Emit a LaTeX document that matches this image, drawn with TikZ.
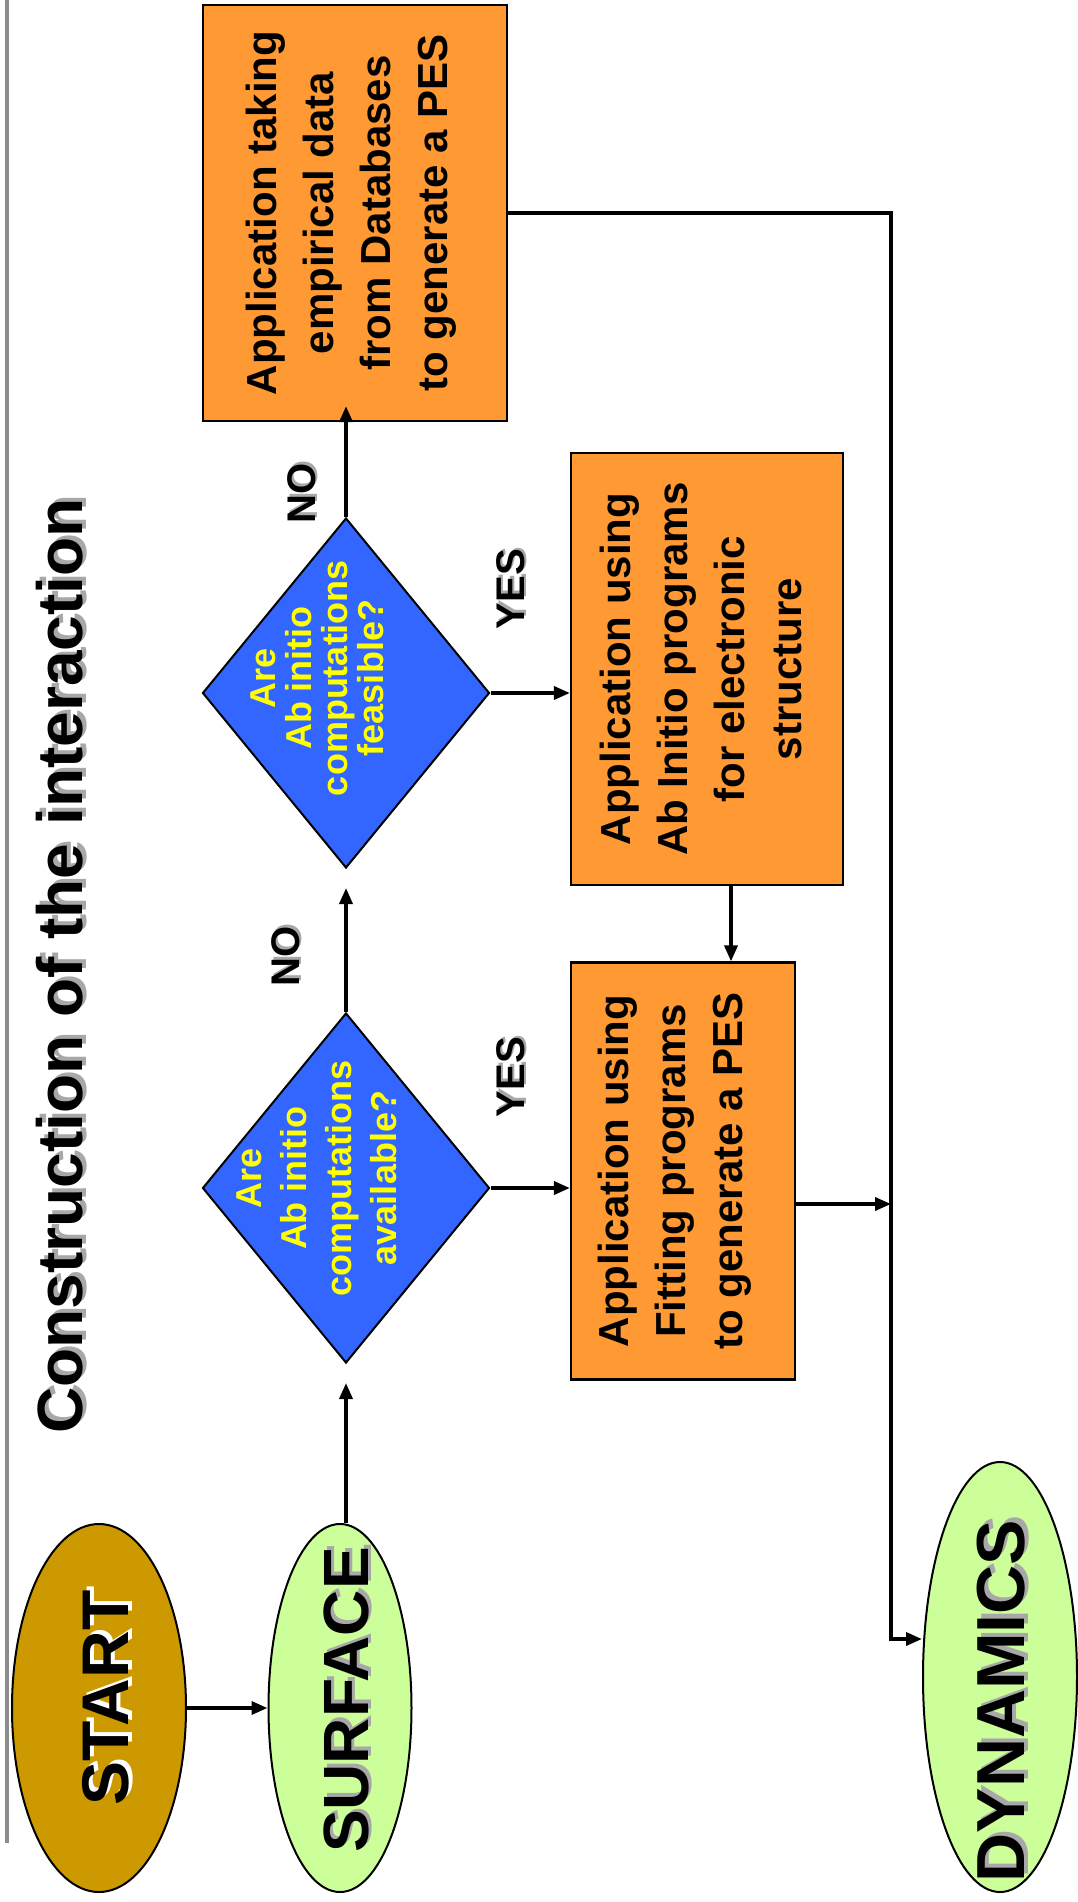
\documentclass[tikz,border=0pt]{standalone}
\usepackage{fontspec}
\setmainfont{Liberation Sans}
\usetikzlibrary{shapes.geometric,arrows.meta,calc}
\definecolor{startcol}{HTML}{CC9900}
\definecolor{greencol}{HTML}{CCFF99}
\definecolor{bluecol}{HTML}{3366FF}
\definecolor{orangecol}{HTML}{FF9933}
\definecolor{shadowgray}{HTML}{A8A8A8}
\definecolor{bargray}{HTML}{8C8C8C}
\definecolor{yel}{HTML}{FFFF00}
\newcommand\shadowed[2]{\leavevmode\rlap{\kern0.06em\raisebox{-0.06em}{\textcolor{#1}{#2}}}#2}
\begin{document}
\begin{tikzpicture}[x=1pt,y=-1pt,
  ell/.style={ellipse, draw=black, line width=2pt, inner sep=0},
  dia/.style={diamond, draw=black, fill=bluecol, line width=2pt, inner sep=0,
    minimum width=287pt, minimum height=350pt},
  boxshape/.style={rectangle, draw=black, fill=orangecol, line width=2.2pt, inner sep=0},
  boxtxt/.style={rotate=90, align=center, inner sep=0, font=\fontsize{42}{57}\selectfont\bfseries},
  bigtxt/.style={rotate=90, inner sep=0, font=\fontsize{64}{70}\selectfont\bfseries},
  lbl/.style={rotate=90, inner sep=0, font=\fontsize{40}{48}\selectfont\bfseries},
  dtxt/.style={rotate=90, align=center, inner sep=0, text=yel},
  conn/.style={line width=3.5pt},
  arr/.style={conn, -{Triangle[length=16pt,width=13pt]}}
]
\fill[white] (0,0) rectangle (1078,1902);
\useasboundingbox (0,0) rectangle (1078,1902);
% left bar
\coordinate (barTop) at (7,0);
\coordinate (barBot) at (7,1843);
\draw[bargray, line width=4pt] (barTop) -- (barBot);

% title
\node[bigtxt] (title) at (62,966) {\shadowed{shadowgray}{Construction of the interaction}};

% shapes
\node[ell, fill=startcol, minimum width=174pt, minimum height=368pt] (start) at (99,1708) {};
\node[ell, fill=greencol, minimum width=143pt, minimum height=368pt] (surface) at (340,1708) {};
\node[ell, fill=greencol, minimum width=154pt, minimum height=430pt] (dyn) at (1000,1677) {};
\node[dia] (d1) at (346,1188) {};
\node[dia] (d2) at (346,693) {};
\node[boxshape, minimum width=304pt, minimum height=416pt] (emp) at (355,213) {};
\node[boxshape, minimum width=272pt, minimum height=432pt] (abinit) at (707,669) {};
\node[boxshape, minimum width=224pt, minimum height=417pt] (fit) at (683,1171) {};

% texts
\node[bigtxt, font=\fontsize{66}{70}\selectfont\bfseries] (tstart) at (108,1698) {\shadowed{white}{START}};
\node[bigtxt] (tsurface) at (348,1700) {\shadowed{shadowgray}{SURFACE}};
\node[bigtxt, font=\fontsize{68}{70}\selectfont\bfseries] (tdyn) at (1003,1701) {\shadowed{shadowgray}{DYNAMICS}};
\node[dtxt, font=\fontsize{36}{45}\selectfont\bfseries] (td1) at (317,1178) {Are\\Ab initio\\computations\\available?};
\node[dtxt, font=\fontsize{36}{36}\selectfont\bfseries] (td2) at (317,678) {Are\\Ab initio\\computations\\feasible?};
\node[boxtxt] (temp) at (351,213) {Application taking\\empirical data\\from Databases\\to generate a PES};
\node[boxtxt] (tabinit) at (701,669) {Application using\\Ab Initio programs\\for electronic\\structure};
\node[boxtxt] (tfit) at (675,1171) {Application using\\Fitting programs\\to generate a PES};

% labels
\node[lbl] (no1) at (303,493) {\shadowed{shadowgray}{NO}};
\node[lbl] (yes1) at (512,589) {\shadowed{shadowgray}{YES}};
\node[lbl] (no2) at (287,956) {\shadowed{shadowgray}{NO}};
\node[lbl] (yes2) at (512,1077) {\shadowed{shadowgray}{YES}};

% connectors
\draw[arr] (start.east) -- (surface.west);
\draw[arr] (d1.south |- surface.north) -- ([yshift=-19pt]d1.south);
\draw[arr] (d1.north) -- ([yshift=-19pt]d2.south);
\draw[arr] (d2.north) -- ([yshift=16pt]d2.north |- emp.south);
\draw[arr] (d2.east) -- (d2.east -| abinit.west);
\draw[arr] (d1.east) -- (d1.east -| fit.west);
\draw[arr] ([xshift=24pt]abinit.south) -- ([xshift=24pt]abinit.south |- fit.north);
\coordinate (busTop) at (891,213);
\coordinate (busBot) at (891,1639);
\draw[arr] ([yshift=-33pt]fit.east) -- ([yshift=-33pt]fit.east -| busTop);
\draw[arr] (emp.east |- busTop) -- (busTop) -- (busBot) -- (busBot -| dyn.west);
\end{tikzpicture}
\end{document}
